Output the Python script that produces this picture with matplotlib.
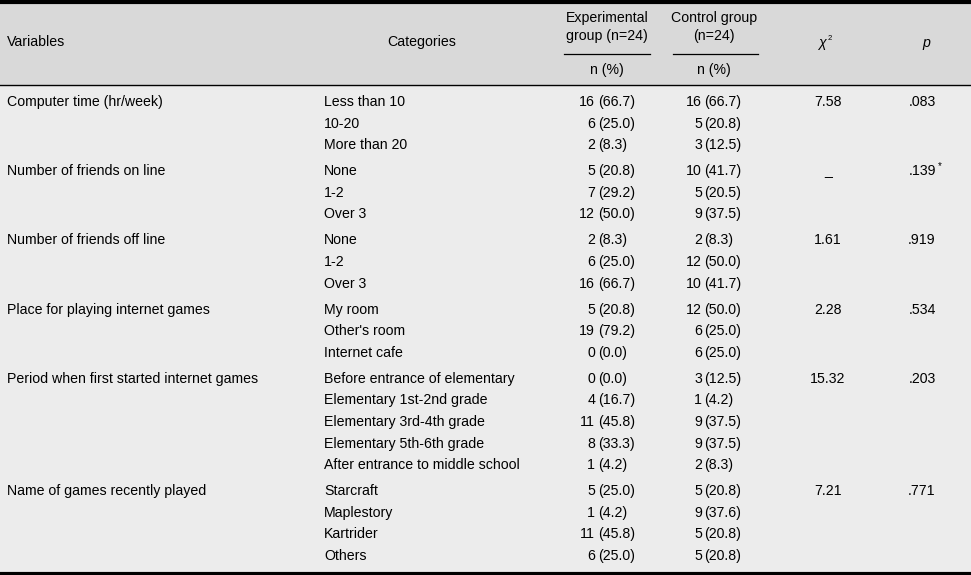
# Table: general characteristics by group
import matplotlib.pyplot as plt

plt.rcParams['font.family'] = ['Liberation Sans', 'DejaVu Sans']

variables = ['Computer time (hr/week)', 'Number of friends on line', 'Number of friends off line',
             'Place for playing internet games', 'Period when first started internet games',
             'Name of games recently played']
categories = [
    ['Less than 10', '10-20', 'More than 20'],
    ['None', '1-2', 'Over 3'],
    ['None', '1-2', 'Over 3'],
    ['My room', "Other's room", 'Internet cafe'],
    ['Before entrance of elementary', 'Elementary 1st-2nd grade', 'Elementary 3rd-4th grade',
     'Elementary 5th-6th grade', 'After entrance to middle school'],
    ['Starcraft', 'Maplestory', 'Kartrider', 'Others'],
]
exp_n = [[16, 6, 2], [5, 7, 12], [2, 6, 16], [5, 19, 0], [0, 4, 11, 8, 1], [5, 1, 11, 6]]
exp_pct = [['66.7', '25.0', '8.3'], ['20.8', '29.2', '50.0'], ['8.3', '25.0', '66.7'],
           ['20.8', '79.2', '0.0'], ['0.0', '16.7', '45.8', '33.3', '4.2'], ['25.0', '4.2', '45.8', '25.0']]
ctl_n = [[16, 5, 3], [10, 5, 9], [2, 12, 10], [12, 6, 6], [3, 1, 9, 9, 2], [5, 9, 5, 5]]
ctl_pct = [['66.7', '20.8', '12.5'], ['41.7', '20.5', '37.5'], ['8.3', '50.0', '41.7'],
           ['50.0', '25.0', '25.0'], ['12.5', '4.2', '37.5', '37.5', '8.3'], ['20.8', '37.6', '20.8', '20.8']]
chi2 = ['7.58', '_', '1.61', '2.28', '15.32', '7.21']
pvals = ['.083', '.139', '.919', '.534', '.203', '.771']
pstar = [False, True, False, False, False, False]

W, H = 971, 575
fig = plt.figure(figsize=(W / 100, H / 100), dpi=100)
ax = fig.add_axes([0, 0, 1, 1])
ax.set_xlim(0, W)
ax.set_ylim(H, 0)
ax.axis('off')

fs = 10.2
# backgrounds
ax.add_patch(plt.Rectangle((0, 0), W, 85, color='#d9d9d9', zorder=0))
ax.add_patch(plt.Rectangle((0, 85), W, H - 85, color='#ececec', zorder=0))
ax.plot([0, W], [1.5, 1.5], color='black', lw=3)
ax.plot([0, W], [85, 85], color='black', lw=1)
ax.plot([0, W], [574, 574], color='black', lw=3)

# header
ax.text(7, 42, 'Variables', fontsize=fs, va='center', ha='left')
ax.text(422, 42, 'Categories', fontsize=fs, va='center', ha='center')
ax.text(607, 27, 'Experimental\ngroup (n=24)', fontsize=fs, va='center', ha='center', linespacing=1.3)
ax.text(714, 27, 'Control group\n(n=24)', fontsize=fs, va='center', ha='center', linespacing=1.3)
ax.plot([564, 650], [54, 54], color='black', lw=0.9)
ax.plot([673, 758], [54, 54], color='black', lw=0.9)
ax.text(607, 70, 'n (%)', fontsize=fs, va='center', ha='center')
ax.text(714, 70, 'n (%)', fontsize=fs, va='center', ha='center')
ax.text(822, 43, 'χ', fontsize=fs, va='center', ha='center', style='italic')
ax.text(828, 38, '2', fontsize=5.5, va='center', ha='left')
ax.text(926, 43, 'p', fontsize=fs, va='center', ha='center', style='italic')

# body
y = 102
for g, var in enumerate(variables):
    ax.text(7, y, var, fontsize=fs, va='center', ha='left')
    ax.text(828, y, chi2[g], fontsize=fs, va='center', ha='center')
    ax.text(922, y, pvals[g], fontsize=fs, va='center', ha='center')
    if pstar[g]:
        ax.text(938, y - 5, '*', fontsize=7, va='center', ha='left')
    for i, cat in enumerate(categories[g]):
        ax.text(324, y, cat, fontsize=fs, va='center', ha='left')
        ax.text(595, y, str(exp_n[g][i]), fontsize=fs, va='center', ha='right')
        ax.text(598, y, '(' + exp_pct[g][i] + ')', fontsize=fs, va='center', ha='left')
        ax.text(702, y, str(ctl_n[g][i]), fontsize=fs, va='center', ha='right')
        ax.text(704, y, '(' + ctl_pct[g][i] + ')', fontsize=fs, va='center', ha='left')
        y += 21.6
    y += 4.4

fig.savefig('out.png', dpi=100)
